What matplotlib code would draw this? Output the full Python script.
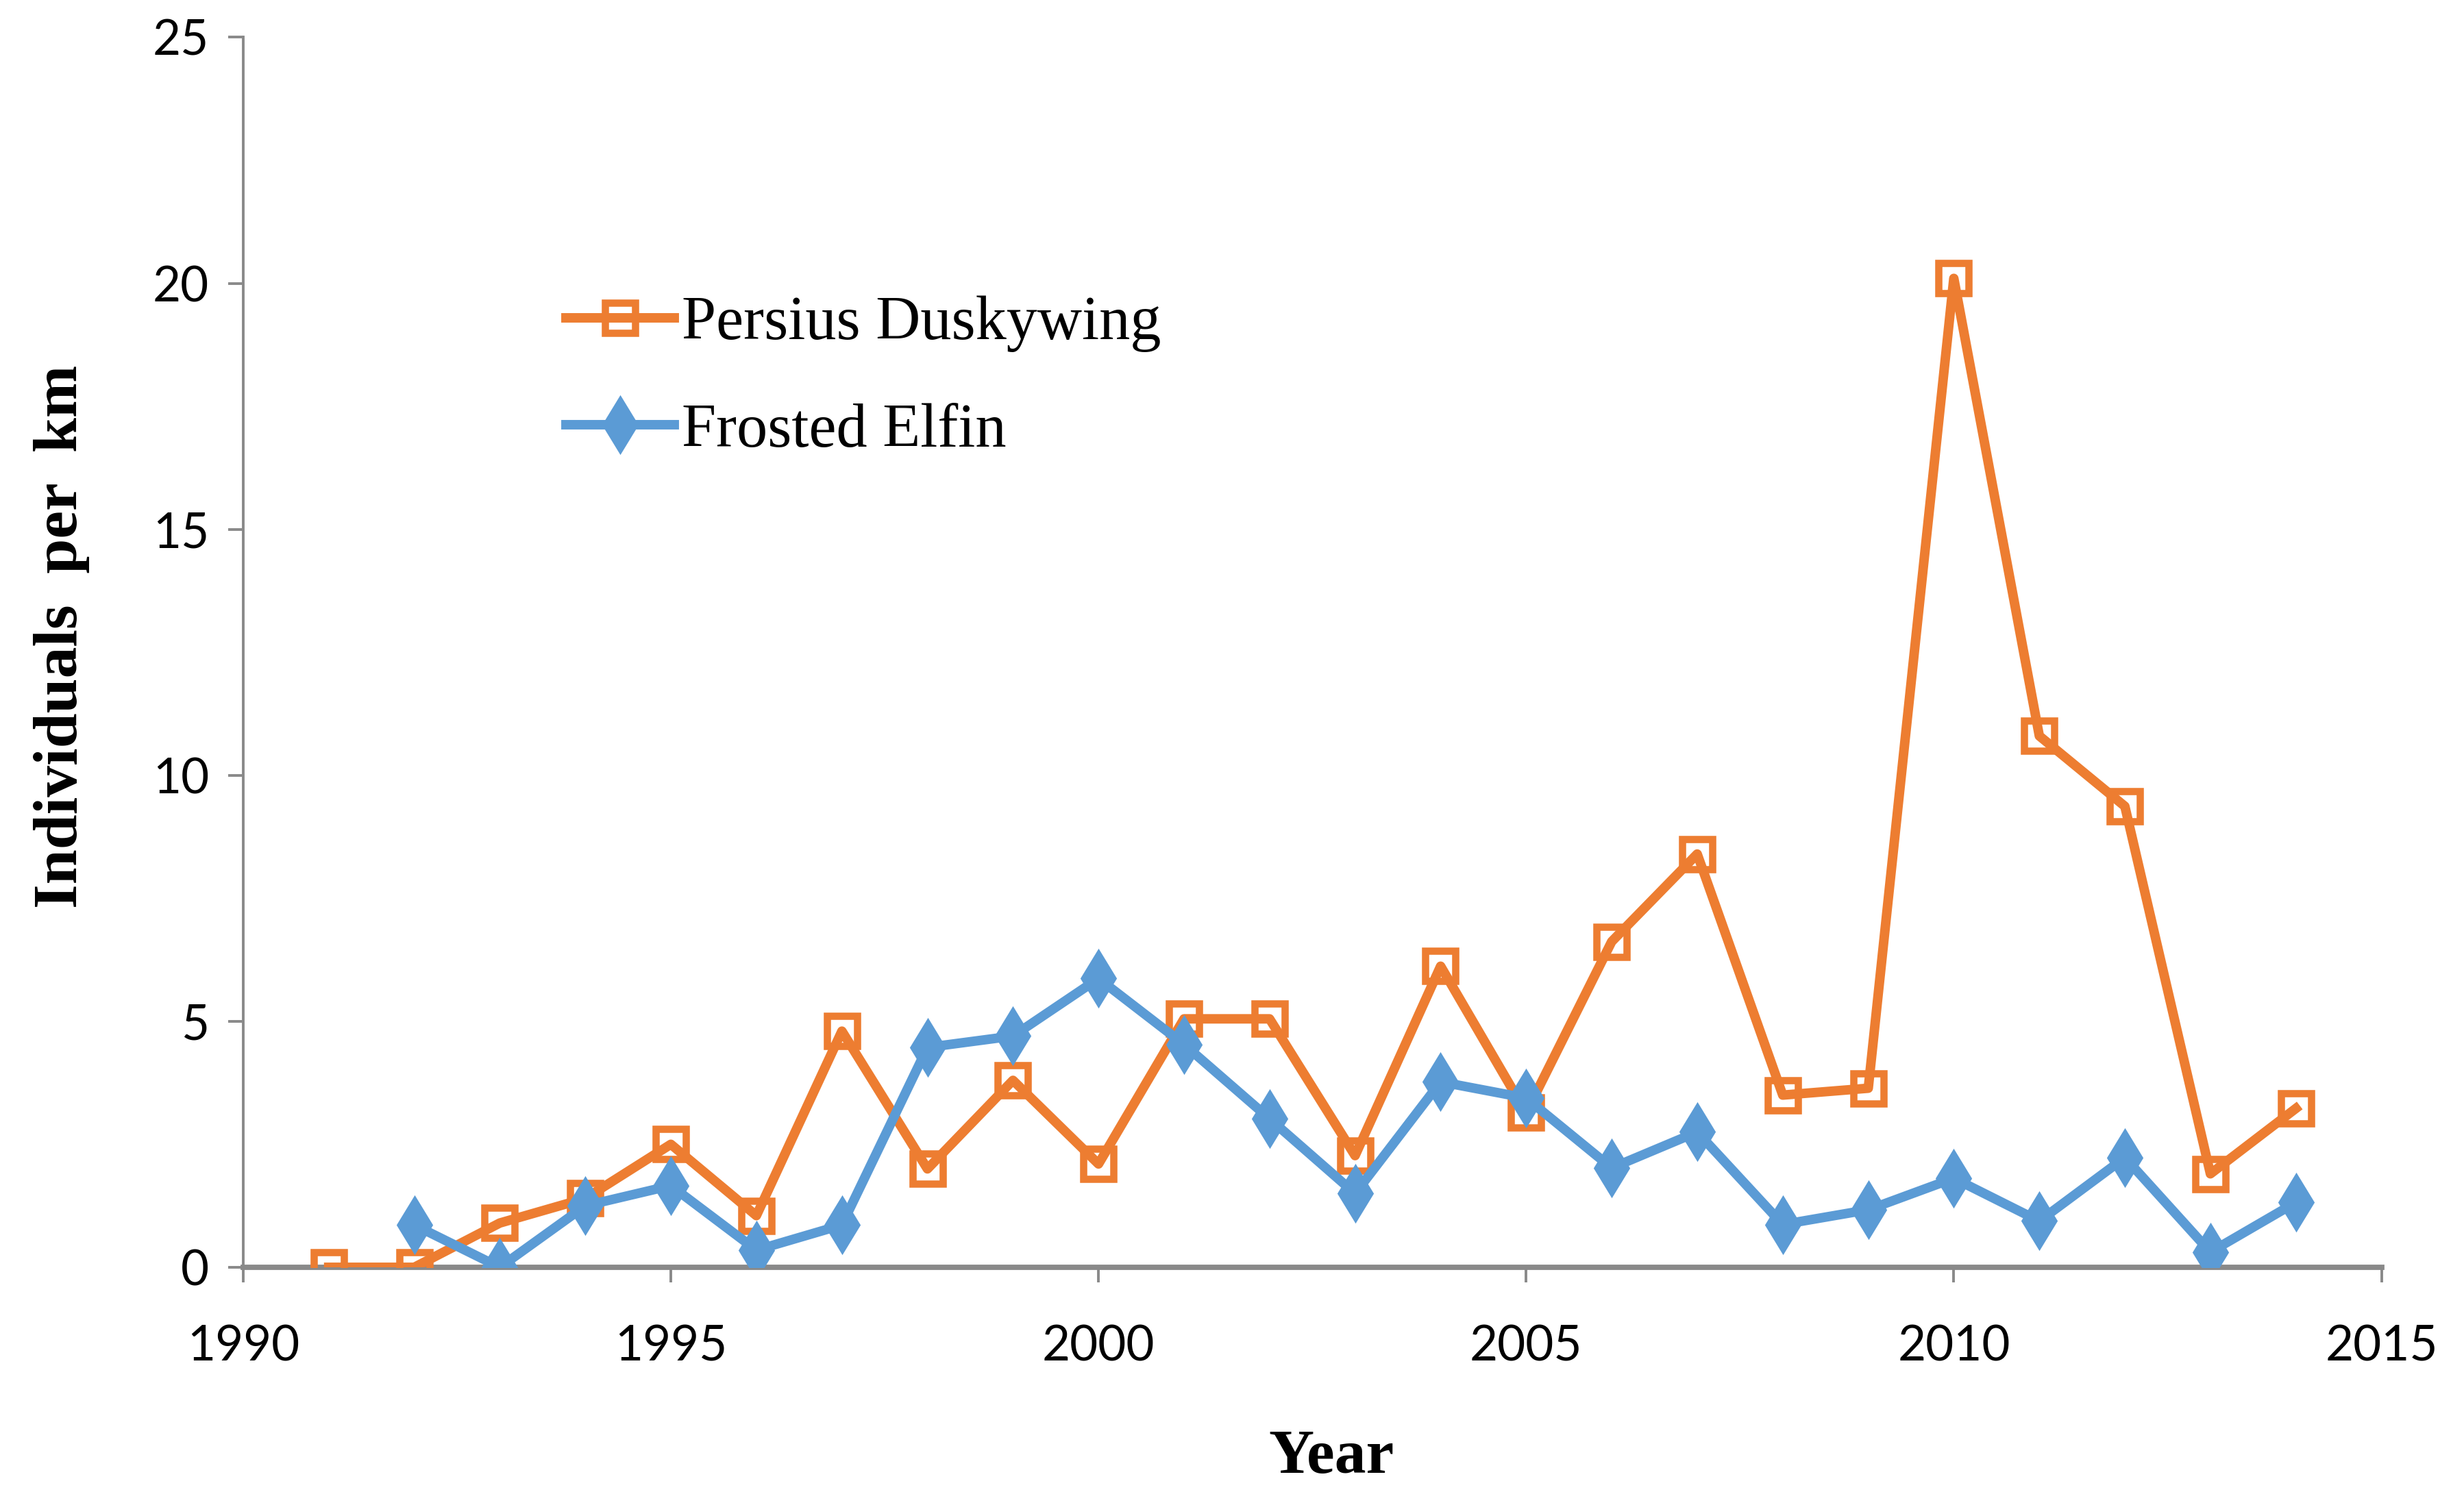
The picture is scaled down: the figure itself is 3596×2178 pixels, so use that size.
import matplotlib
matplotlib.use("Agg")
import matplotlib.pyplot as plt

years_pd = list(range(1991, 2015))
persius = [0.0, 0.0, 0.9, 1.4, 2.5, 1.05, 4.8, 2.0, 3.8, 2.1, 5.05, 5.05,
           2.27, 6.12, 3.14, 6.62, 8.4, 3.5, 3.64, 20.1, 10.8, 9.37, 1.9, 3.23]
years_fe = list(range(1992, 2015))
frosted = [0.86, 0.0, 1.25, 1.66, 0.35, 0.86, 4.47, 4.7, 5.87, 4.53, 3.02,
           1.5, 3.77, 3.44, 2.02, 2.75, 0.87, 1.17, 1.81, 0.94, 2.23, 0.31, 1.32]
xticks = [1990, 1995, 2000, 2005, 2010, 2015]
yticks = [0, 5, 10, 15, 20, 25]

ORANGE = "#ED7D31"
BLUE = "#5B9BD5"
GREY = "#898989"
SERIF = ["Liberation Serif", "DejaVu Serif"]

fig = plt.figure(figsize=(17.98, 10.89), dpi=200)
ax = fig.add_axes([0.0987, 0.1506, 0.8678, 0.8244])

ax.plot(years_pd, persius, color=ORANGE, lw=5.0, marker="s", markersize=16,
        markerfacecolor="none", markeredgecolor=ORANGE, markeredgewidth=3.8,
        label="Persius Duskywing", zorder=3)
ax.plot(years_fe, frosted, color=BLUE, lw=5.0, marker="d", markersize=21,
        markerfacecolor=BLUE, markeredgecolor=BLUE,
        label="Frosted Elfin", zorder=4)

ax.set_xlim(1990, 2015)
ax.set_ylim(0, 25)
ax.set_xticks(xticks)
ax.set_yticks(yticks)
ax.spines["top"].set_visible(False)
ax.spines["right"].set_visible(False)
ax.spines["left"].set_color(GREY)
ax.spines["left"].set_linewidth(1.4)
ax.spines["bottom"].set_color(GREY)
ax.spines["bottom"].set_linewidth(2.8)
ax.tick_params(axis="both", direction="out", length=8, width=1.4, color=GREY,
               labelsize=25.5, pad=10)
for lab in ax.get_xticklabels() + ax.get_yticklabels():
    lab.set_fontfamily(["Lato", "DejaVu Sans"])
ax.tick_params(axis="x", pad=22)

ax.set_xlabel("Year", fontfamily=SERIF, fontweight="bold",
              fontsize=33, labelpad=32)
ax.xaxis.label.set_x(0.509)
ax.set_ylabel("Individuals  per  km", fontfamily=SERIF,
              fontweight="bold", fontsize=33, labelpad=33)
ax.yaxis.label.set_y(0.513)

leg = ax.legend(loc="upper left", bbox_to_anchor=(0.125, 0.835), frameon=False,
                prop={"family": SERIF, "size": 32.5},
                handlelength=1.75, handletextpad=0.12, labelspacing=0.82)

fig.savefig("out.png", dpi=200, facecolor="white")
